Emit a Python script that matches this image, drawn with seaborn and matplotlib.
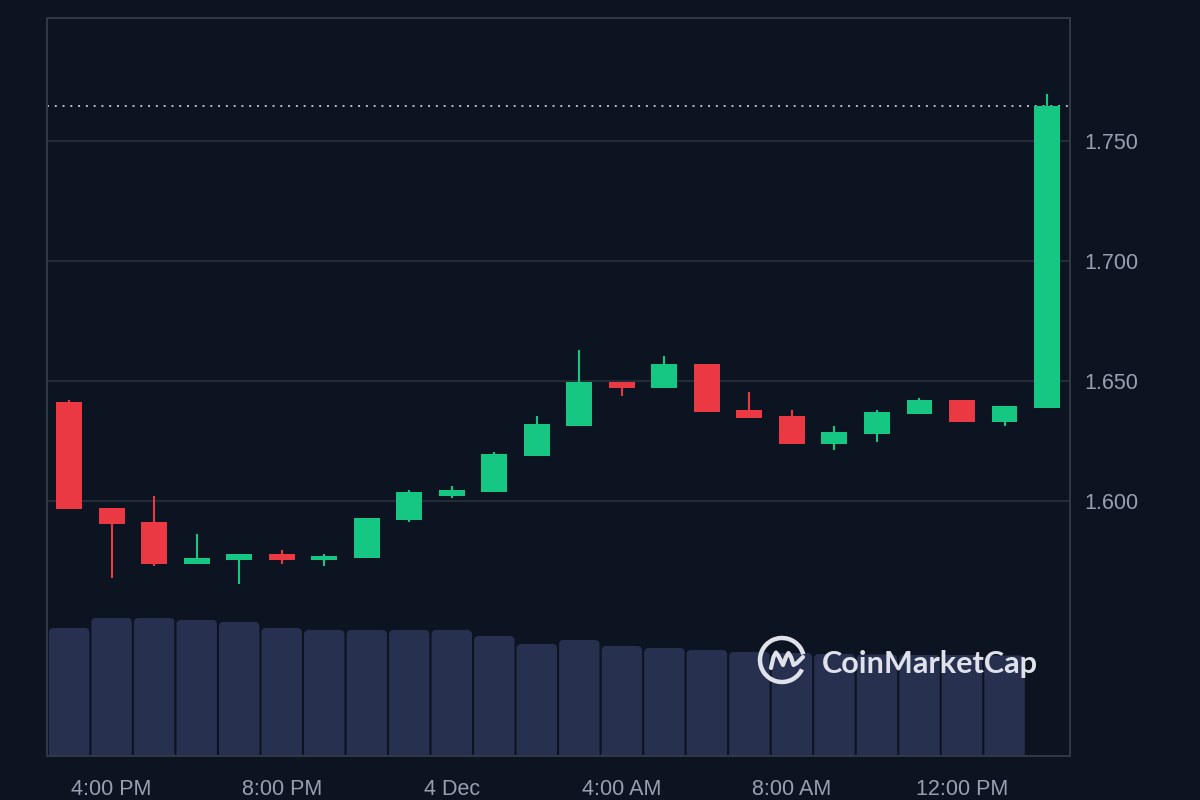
import numpy as np
import pandas as pd
import matplotlib
matplotlib.use("Agg")
import matplotlib.pyplot as plt
import matplotlib.transforms as mtransforms
from matplotlib.patches import FancyBboxPatch, Arc
from matplotlib.lines import Line2D
import seaborn as sns

# ---------------- data ----------------
hours = list(range(24))  # hourly candles, 0 = 3:00 PM (3 Dec)
opens = [1.6413, 1.5971, 1.5913, 1.5739, 1.5755, 1.5779, 1.5755, 1.5764, 1.5921, 1.6022,
         1.6038, 1.6188, 1.6313, 1.6496, 1.6471, 1.6571, 1.6379, 1.6354, 1.6238, 1.6279,
         1.6363, 1.6421, 1.6329, 1.6388]
closes = [1.5965, 1.5905, 1.5739, 1.5763, 1.5779, 1.5755, 1.5771, 1.5929, 1.6038, 1.6046,
          1.6196, 1.6321, 1.6496, 1.6471, 1.6571, 1.6371, 1.6346, 1.6238, 1.6288, 1.6371,
          1.6421, 1.6329, 1.6396, 1.7646]
highs = [1.6421, 1.5971, 1.6021, 1.5863, 1.5779, 1.5796, 1.5779, 1.5931, 1.6046, 1.6063,
         1.6204, 1.6354, 1.6629, 1.6496, 1.6604, 1.6571, 1.6454, 1.6379, 1.6313, 1.6379,
         1.6429, 1.6421, 1.6396, 1.7696]
lows = [1.5965, 1.5678, 1.5730, 1.5739, 1.5655, 1.5739, 1.5730, 1.5762, 1.5913, 1.6014,
        1.6038, 1.6188, 1.6313, 1.6438, 1.6471, 1.6371, 1.6346, 1.6238, 1.6213, 1.6246,
        1.6363, 1.6329, 1.6313, 1.6388]
volumes = [12.8, 13.8, 13.8, 13.6, 13.4, 12.8, 12.6, 12.6, 12.6, 12.6, 12.0, 11.2,
           11.6, 11.0, 10.8, 10.6, 10.4, 10.3, 10.2, 10.15, 10.1, 10.1, 10.05]
tick_pos = [1, 5, 9, 13, 17, 21]
tick_labels = ["4:00 PM", "8:00 PM", "4 Dec", "4:00 AM", "8:00 AM", "12:00 PM"]
price_ticks = [1.600, 1.650, 1.700, 1.750]

# ---------------- style ----------------
BG = "#0d1421"
GREEN = "#16c784"
RED = "#ea3943"
VOL = "#27304f"
GRID = "#262b38"
SPINE = "#323848"
TXT = "#989fb0"

sns.set_theme(style="dark")
plt.rcParams["font.family"] = ["Liberation Sans", "DejaVu Sans"]

fig = plt.figure(figsize=(12, 8), dpi=100, facecolor=BG)
ax = fig.add_axes([47 / 1200, 44 / 800, 1023 / 1200, 738 / 800])
ax2 = ax.twinx()
ax.set_zorder(ax2.get_zorder() + 1)
ax.patch.set_visible(False)
ax2.patch.set_facecolor(BG)

# ---------------- volume (seaborn) ----------------
vdf = pd.DataFrame({"hour": hours[:len(volumes)], "volume": volumes})
sns.barplot(data=vdf, x="hour", y="volume", ax=ax2, native_scale=True,
            color=VOL, saturation=1, width=0.95, edgecolor="none")
ax2.set_ylim(0, 73.8)
# rounded tops
for p in list(ax2.patches):
    x0, w, h = p.get_x(), p.get_width(), p.get_height()
    p.remove()
    ax2.add_patch(FancyBboxPatch((x0, -2), w, h + 2,
                                 boxstyle="round,pad=0,rounding_size=0.11",
                                 mutation_aspect=4.0, facecolor=VOL,
                                 edgecolor="none", zorder=1))

# ---------------- candles ----------------
df = pd.DataFrame({"hour": hours, "open": opens, "close": closes,
                   "high": highs, "low": lows})
up = df["close"] >= df["open"]
colors = np.where(up, GREEN, RED)
ax.vlines(df["hour"], df["low"], df["high"], colors=colors, linewidth=1.5, zorder=3)
bottoms = np.minimum(df["open"], df["close"])
heights = np.abs(df["close"] - df["open"])
ax.bar(df["hour"], heights, bottom=bottoms, width=0.61, color=colors,
       linewidth=0, zorder=4)

# last price dotted line
ax.axhline(closes[-1], color="#b8bdca", linestyle=(0, (1, 3)), linewidth=1.4, zorder=2)

# ---------------- axes ----------------
ax.set_xlim(-0.52, 23.54)
ax.set_ylim(1.49375, 1.80125)
ax.set_xticks(tick_pos)
ax.set_xticklabels(tick_labels)
ax.set_yticks(price_ticks)
ax.set_yticklabels([f"{v:.3f}" for v in price_ticks])
ax.yaxis.tick_right()
ax.tick_params(axis="y", length=0, pad=10.5, labelsize=15.5, labelcolor=TXT)
ax.tick_params(axis="x", length=0, pad=16.5, labelsize=15.5, labelcolor=TXT)
ax.grid(axis="y", color=GRID, linewidth=1.4)
ax.grid(axis="x", visible=False)
ax2.grid(False)
ax2.set_yticks([])
ax2.set_xlabel("")
ax2.set_ylabel("")
ax.set_xlabel("")
ax.set_ylabel("")
for a in (ax, ax2):
    for s in a.spines.values():
        s.set_visible(True)
        s.set_color(SPINE)
        s.set_linewidth(1.4)

# ---------------- watermark ----------------
pix = mtransforms.Affine2D().scale(1 / 1200, -1 / 800).translate(0, 1) + fig.transFigure
LOGO = "#dfe2ea"
fig.add_artist(Arc((782, 660), 44, 44, theta1=25, theta2=345, transform=pix,
                   color=LOGO, linewidth=3.2, zorder=10))
mx = [771, 773.5, 776, 778.5, 783, 786, 788.5, 791, 793.5, 797, 803]
my = [668, 657, 652.5, 656, 665, 657, 653, 657, 665, 663, 657]
fig.add_artist(Line2D(mx, my, transform=pix, color=LOGO, linewidth=3.0,
                      solid_joinstyle="round", solid_capstyle="round", zorder=10))
t = fig.text(822 / 1200, 1 - 673 / 800, "CoinMarketCap", fontsize=24,
             fontfamily=["Lato", "DejaVu Sans"], fontweight="bold",
             color=LOGO, ha="left", va="baseline", zorder=10)
fig.canvas.draw()
bb = t.get_window_extent()
t.set_fontsize(24 * 216 / bb.width)

fig.savefig("out.png", dpi=100, facecolor=BG)
